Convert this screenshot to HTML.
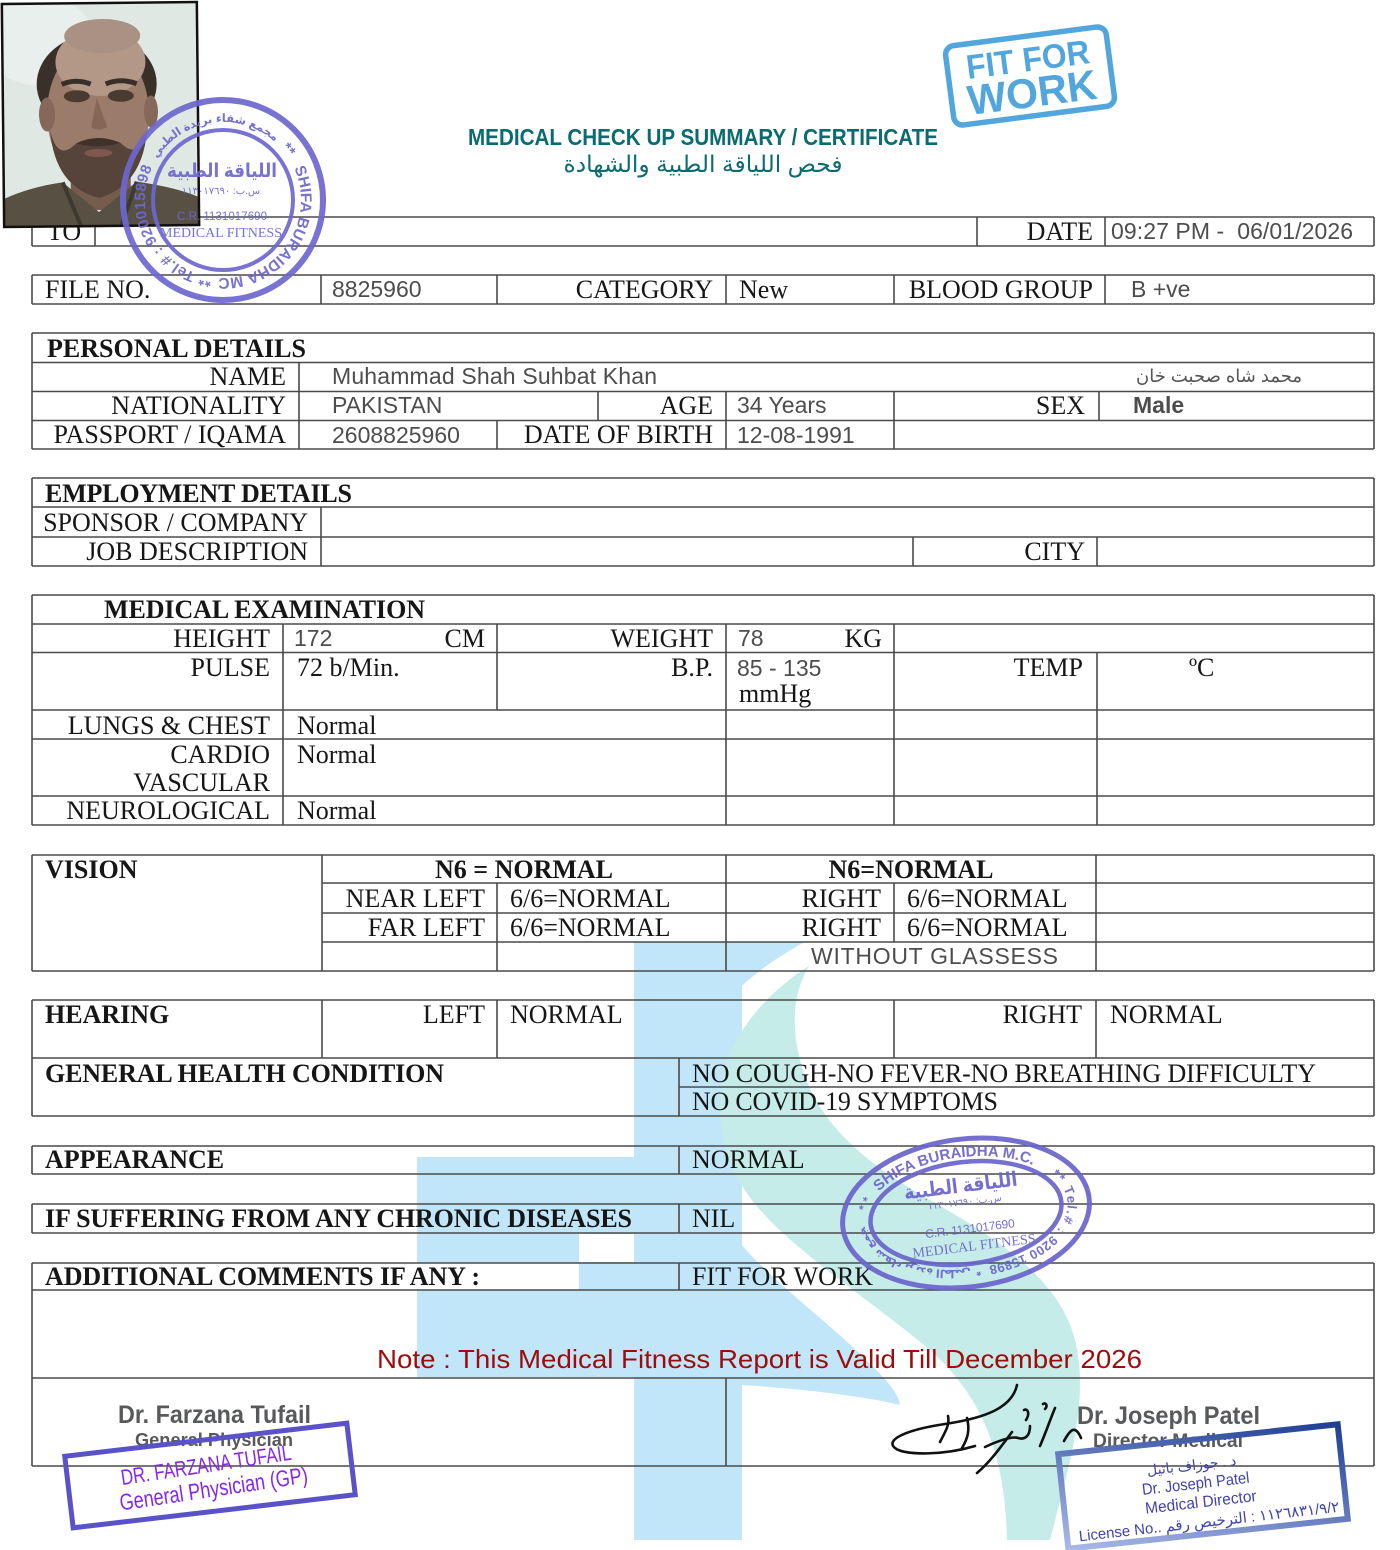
<!DOCTYPE html>
<html><head><meta charset="utf-8">
<style>
html,body{margin:0;padding:0;background:#fff;width:1400px;height:1550px;overflow:hidden}
svg{display:block}
.s{font-family:"Liberation Serif","DejaVu Serif",serif;font-size:26px;fill:#161616}
.b{font-weight:bold}
.v{font-family:"Liberation Sans","DejaVu Sans",sans-serif;font-size:23px;fill:#4d4d4d}
.e{text-anchor:end}
.m{text-anchor:middle}
.ar{font-family:"Liberation Sans","DejaVu Sans",sans-serif}
</style></head>
<body>
<svg xmlns="http://www.w3.org/2000/svg" width="1400" height="1550" viewBox="0 0 1400 1550">
<defs>
  <path id="c1" d="M223 278 A78 78 0 1 1 223 122 A78 78 0 1 1 223 278"/>
  <path id="c2" d="M864 1213 A102 56 0 1 1 1068 1213 A102 56 0 1 1 864 1213"/>
  <linearGradient id="jg" x1="1" y1="0" x2="0" y2="1">
    <stop offset="0" stop-color="#1f3f94"/>
    <stop offset="1" stop-color="#a9b8e8"/>
  </linearGradient>
  <clipPath id="pc"><rect x="3" y="3" width="195" height="223"/></clipPath>
</defs>
<rect width="1400" height="1550" fill="#fff"/>

<!-- watermark -->
<g>
  <path d="M742 942 L805 942 C762 965 715 1000 700 1049 C685 1100 690 1170 727 1226 C760 1275 830 1320 883 1377 C895 1390 900 1400 900 1405 C860 1395 790 1388 742 1385 Z" fill="#c2e6f9"/>
  <rect x="634" y="942" width="108" height="598" fill="#c2e6f9"/>
  <rect x="417" y="1157" width="325" height="220" fill="#c2e6f9"/>
  <path d="M809 966 C770 990 735 1030 724 1070 C712 1120 725 1170 760 1210 C800 1255 870 1300 930 1350 C980 1395 1005 1450 1007 1540 L1050 1540 C1068 1470 1090 1400 1075 1340 C1060 1280 1000 1240 930 1200 C860 1160 815 1120 800 1060 C790 1020 795 990 809 966 Z" fill="#c5ece8"/>
  <rect x="579" y="1234" width="55" height="28" fill="#fff"/>
  <rect x="417" y="1263" width="162" height="27" fill="#fff"/>
</g>

<!-- table lines -->
<path fill="none" stroke="#4a4a4a" stroke-width="1.6" d="
M32 217H1374 M32 246H1374 M32 217V246 M1374 217V246 M95 217V246 M977 217V246 M1105 217V246
M32 275H1374 M32 304H1374 M32 275V304 M1374 275V304 M321 275V304 M497 275V304 M726 275V304 M894 275V304 M1105 275V304
M32 333H1374 M32 362.5H1374 M32 391.5H1374 M32 420.5H1374 M32 449H1374 M32 333V449 M1374 333V449
M299 362.5V449 M598 391.5V420.5 M726 391.5V449 M894 391.5V449 M1099 391.5V420.5 M497 420.5V449
M32 478H1374 M32 507H1374 M32 537H1374 M32 566H1374 M32 478V566 M1374 478V566 M321 507V566 M913 537V566 M1097 537V566
M32 595H1374 M32 624H1374 M32 652.5H1374 M32 710H1374 M32 739H1374 M32 796H1374 M32 825H1374 M32 595V825 M1374 595V825
M283 624V825 M497 624V710 M726 624V825 M894 624V825 M1097 652.5V825
M32 855H1374 M32 971H1374 M322 883H1374 M322 913H1374 M322 942H1374 M32 855V971 M1374 855V971
M322 855V971 M726 855V971 M1096 855V971 M497 883V971 M894 883V942
M32 1000H1374 M32 1058H1374 M32 1116H1374 M679 1087H1374 M32 1000V1116 M1374 1000V1116
M322 1000V1058 M497 1000V1058 M894 1000V1058 M1096 1000V1058 M679 1058V1116
M32 1146H1374 M32 1174H1374 M32 1146V1174 M1374 1146V1174 M679 1146V1174
M32 1204H1374 M32 1233H1374 M32 1204V1233 M1374 1204V1233 M679 1204V1233
M32 1263H1374 M32 1290H1374 M32 1378H1374 M32 1466H1374 M32 1263V1466 M1374 1263V1466 M679 1263V1290 M726 1378V1466
"/>

<!-- title -->
<text x="468" y="145" font-family="Liberation Sans, sans-serif" font-weight="bold" font-size="23" fill="#0a6b70" textLength="470" lengthAdjust="spacingAndGlyphs">MEDICAL CHECK UP SUMMARY / CERTIFICATE</text>
<text x="703" y="172" class="ar m" font-size="23" fill="#0a6b70" textLength="279" lengthAdjust="spacingAndGlyphs">فحص اللياقة الطبية والشهادة</text>

<!-- row TO / DATE -->
<text class="s" x="47" y="240">TO</text>
<text class="s e" x="1093" y="240">DATE</text>
<text class="v" x="1111" y="239" textLength="242">09:27 PM -&#160; 06/01/2026</text>

<!-- FILE row -->
<text class="s" x="45" y="298">FILE NO.</text>
<text class="v" x="332" y="297">8825960</text>
<text class="s e" x="713" y="298">CATEGORY</text>
<text class="s" x="739" y="298">New</text>
<text class="s e" x="1093" y="298">BLOOD GROUP</text>
<text class="v" x="1131" y="297">B +ve</text>

<!-- Personal -->
<text class="s b" x="47" y="357" textLength="259">PERSONAL DETAILS</text>
<text class="s e" x="286" y="385">NAME</text>
<text class="v" x="332" y="384" textLength="325">Muhammad Shah Suhbat Khan</text>
<text class="ar e" x="1302" y="382" font-size="18" fill="#555">محمد شاه صحبت خان</text>
<text class="s e" x="286" y="414">NATIONALITY</text>
<text class="v" x="332" y="413">PAKISTAN</text>
<text class="s e" x="713" y="414">AGE</text>
<text class="v" x="737" y="413">34 Years</text>
<text class="s e" x="1085" y="414">SEX</text>
<text class="v" x="1133" y="413" font-weight="bold" fill="#555">Male</text>
<text class="s e" x="286" y="443">PASSPORT / IQAMA</text>
<text class="v" x="332" y="443">2608825960</text>
<text class="s e" x="713" y="443">DATE OF BIRTH</text>
<text class="v" x="737" y="443">12-08-1991</text>

<!-- Employment -->
<text class="s b" x="45" y="502" textLength="307">EMPLOYMENT DETAILS</text>
<text class="s e" x="308" y="531">SPONSOR / COMPANY</text>
<text class="s e" x="308" y="560">JOB DESCRIPTION</text>
<text class="s e" x="1085" y="560">CITY</text>

<!-- Medical -->
<text class="s b" x="104" y="618" textLength="321">MEDICAL EXAMINATION</text>
<text class="s e" x="270" y="647">HEIGHT</text>
<text class="v" x="294" y="646" font-size="21">172</text>
<text class="s e" x="485" y="647">CM</text>
<text class="s e" x="713" y="647">WEIGHT</text>
<text class="v" x="738" y="646" font-size="21">78</text>
<text class="s e" x="882" y="647">KG</text>
<text class="s e" x="270" y="676">PULSE</text>
<text class="s" x="297" y="676">72 b/Min.</text>
<text class="s e" x="713" y="676">B.P.</text>
<text class="v" x="737" y="676" font-size="21">85 - 135</text>
<text class="s" x="739" y="702">mmHg</text>
<text class="s e" x="1083" y="676">TEMP</text>
<text class="s" x="1189" y="676">ºC</text>
<text class="s e" x="270" y="734">LUNGS &amp; CHEST</text>
<text class="s" x="297" y="734">Normal</text>
<text class="s e" x="270" y="763">CARDIO</text>
<text class="s e" x="270" y="791">VASCULAR</text>
<text class="s" x="297" y="763">Normal</text>
<text class="s e" x="270" y="819">NEUROLOGICAL</text>
<text class="s" x="297" y="819">Normal</text>

<!-- Vision -->
<text class="s b" x="45" y="878">VISION</text>
<text class="s b m" x="524" y="878">N6 = NORMAL</text>
<text class="s b m" x="911" y="878">N6=NORMAL</text>
<text class="s e" x="485" y="907">NEAR LEFT</text>
<text class="s" x="510" y="907">6/6=NORMAL</text>
<text class="s e" x="881" y="907">RIGHT</text>
<text class="s" x="907" y="907">6/6=NORMAL</text>
<text class="s e" x="485" y="936">FAR LEFT</text>
<text class="s" x="510" y="936">6/6=NORMAL</text>
<text class="s e" x="881" y="936">RIGHT</text>
<text class="s" x="907" y="936">6/6=NORMAL</text>
<text class="v" x="811" y="964" textLength="247">WITHOUT GLASSESS</text>

<!-- Hearing etc -->
<text class="s b" x="45" y="1023">HEARING</text>
<text class="s e" x="485" y="1023">LEFT</text>
<text class="s" x="510" y="1023">NORMAL</text>
<text class="s e" x="1082" y="1023">RIGHT</text>
<text class="s" x="1110" y="1023">NORMAL</text>
<text class="s b" x="45" y="1082" textLength="399">GENERAL HEALTH CONDITION</text>
<text class="s" x="692" y="1082" textLength="624">NO COUGH-NO FEVER-NO BREATHING DIFFICULTY</text>
<text class="s" x="692" y="1110" textLength="306">NO COVID-19 SYMPTOMS</text>
<text class="s b" x="45" y="1168">APPEARANCE</text>
<text class="s" x="692" y="1168">NORMAL</text>
<text class="s b" x="45" y="1227" textLength="587">IF SUFFERING FROM ANY CHRONIC DISEASES</text>
<text class="s" x="692" y="1227">NIL</text>
<text class="s b" x="45" y="1285" textLength="435">ADDITIONAL COMMENTS IF ANY :</text>
<text class="s" x="692" y="1285">FIT FOR WORK</text>

<text x="377" y="1368" font-family="Liberation Sans, sans-serif" font-size="26" fill="#9e0b0b" textLength="765" lengthAdjust="spacingAndGlyphs">Note : This Medical Fitness Report is Valid Till December 2026</text>

<!-- signatures text -->
<text x="118" y="1423" font-family="Liberation Sans, sans-serif" font-weight="bold" font-size="25" fill="#58595b" textLength="193" lengthAdjust="spacingAndGlyphs">Dr. Farzana Tufail</text>
<text x="135" y="1446" font-family="Liberation Sans, sans-serif" font-weight="bold" font-size="18" fill="#58595b" textLength="158" lengthAdjust="spacingAndGlyphs">General Physician</text>
<text x="1077" y="1424" font-family="Liberation Sans, sans-serif" font-weight="bold" font-size="25" fill="#58595b" textLength="183" lengthAdjust="spacingAndGlyphs">Dr. Joseph Patel</text>
<text x="1093" y="1447" font-family="Liberation Sans, sans-serif" font-weight="bold" font-size="19" fill="#58595b" textLength="150" lengthAdjust="spacingAndGlyphs">Director Medical</text>

<!-- handwritten signature -->
<g fill="none" stroke="#111" stroke-width="2.6" stroke-linecap="round">
  <path d="M1017 1385 C1012 1408 985 1418 945 1424 C905 1430 885 1440 895 1448 C905 1456 945 1455 975 1446"/>
  <path d="M940 1442 C945 1432 950 1425 948 1416"/>
  <path d="M962 1448 C968 1438 970 1430 967 1418"/>
  <path d="M1012 1432 C1000 1448 990 1462 977 1473"/>
  <path d="M985 1447 C998 1441 1012 1436 1018 1438 C1025 1440 1030 1436 1030 1426"/>
  <path d="M1040 1446 C1046 1432 1050 1420 1055 1408"/>
  <path d="M1024 1410 C1028 1408 1030 1414 1026 1420"/>
  <path d="M1064 1441 C1070 1430 1075 1424 1081 1438"/>
  <path d="M1043 1404 C1046 1402 1048 1406 1045 1409"/>
</g>

<!-- photo -->
<g transform="rotate(-0.6 100 115)">
  <g clip-path="url(#pc)">
    <rect x="3" y="3" width="195" height="223" fill="#e0e8e4"/>
    <ellipse cx="40" cy="40" rx="55" ry="45" fill="#e9efec"/>
    <ellipse cx="97" cy="84" rx="60" ry="50" fill="#3a302a"/>
    <rect x="70" y="160" width="60" height="50" fill="#765c4d"/>
    <ellipse cx="98" cy="114" rx="51" ry="72" fill="#9b7b69"/>
    <ellipse cx="101" cy="62" rx="45" ry="34" fill="#b39888"/>
    <ellipse cx="103" cy="36" rx="38" ry="17" fill="#a99183"/>
    <ellipse cx="47" cy="114" rx="8" ry="17" fill="#86685a"/>
    <ellipse cx="151" cy="112" rx="7" ry="16" fill="#86685a"/>
    <path d="M62 84 Q76 78 91 84" stroke="#3a2e28" stroke-width="5" fill="none"/>
    <path d="M106 84 Q121 78 137 84" stroke="#3a2e28" stroke-width="5" fill="none"/>
    <ellipse cx="77" cy="96" rx="13" ry="6" fill="#4a3a32"/>
    <ellipse cx="121" cy="96" rx="13" ry="6" fill="#4a3a32"/>
    <path d="M97 98 L91 127 Q98 132 107 127 Z" fill="#866656"/>
    <path d="M50 130 Q54 186 98 198 Q142 186 147 130 Q140 162 120 143 Q98 138 76 143 Q57 162 50 130 Z" fill="#56443a"/>
    <path d="M76 143 Q98 133 120 143 Q98 150 76 143 Z" fill="#40322b"/>
    <ellipse cx="98" cy="153" rx="14" ry="4" fill="#7e5850"/>
    <path d="M3 226 L3 198 Q30 186 62 182 L98 212 L136 182 Q175 188 198 198 L198 226 Z" fill="#575043"/>
    <path d="M62 182 L80 226 M136 182 L120 226" stroke="#3e392f" stroke-width="4" fill="none"/>
  </g>
  <rect x="3" y="3" width="195" height="223" fill="none" stroke="#111" stroke-width="2.5"/>
</g>

<!-- stamp 1 (round) -->
<g opacity="0.92" fill="#6d67cf">
  <circle cx="223" cy="200" r="100" fill="none" stroke="#6d67cf" stroke-width="6"/>
  <circle cx="223" cy="200" r="70" fill="none" stroke="#6d67cf" stroke-width="4"/>
  <text font-family="Liberation Sans, sans-serif" font-weight="bold" font-size="15" letter-spacing="0.4"><textPath href="#c1" startOffset="11">** Tel.# : 920015898</textPath></text>
  <text class="ar" font-weight="bold" font-size="11.5"><textPath href="#c1" startOffset="166">مجمع شفاء بريدة الطبي</textPath></text>
  <text font-family="Liberation Sans, sans-serif" font-weight="bold" font-size="15"><textPath href="#c1" startOffset="310">**</textPath></text>
  <text font-family="Liberation Sans, sans-serif" font-weight="bold" font-size="15.5"><textPath href="#c1" startOffset="334">SHIFA BURAIDHA MC</textPath></text>
  <text class="ar m" x="222" y="177" font-weight="bold" font-size="19" textLength="110" lengthAdjust="spacingAndGlyphs">اللياقة الطبية</text>
  <text class="ar m" x="221" y="194" font-size="10">س.ب: ١١٣٠١٧٦٩٠</text>
  <text class="m" x="222" y="220" font-family="Liberation Sans, sans-serif" font-size="11.5" textLength="90">C.R. 1131017690</text>
  <text class="m" x="221" y="237" font-family="Liberation Serif, serif" font-size="14" textLength="122">MEDICAL FITNESS</text>
</g>

<!-- FIT FOR WORK stamp -->
<g transform="rotate(-7.4 1030 76)" opacity="0.95">
  <rect x="949" y="36" width="162" height="80" rx="9" fill="none" stroke="#48a2dc" stroke-width="5.5"/>
  <text x="1030" y="71" class="m" font-family="Liberation Sans, sans-serif" font-weight="bold" font-size="34" fill="#48a2dc" textLength="124" lengthAdjust="spacingAndGlyphs">FIT FOR</text>
  <text x="1030" y="107" class="m" font-family="Liberation Sans, sans-serif" font-weight="bold" font-size="42" fill="#48a2dc" textLength="130" lengthAdjust="spacingAndGlyphs">WORK</text>
</g>

<!-- stamp 2 (oval) -->
<g transform="rotate(-7 966 1213)" opacity="0.92" fill="#6a64cc">
  <ellipse cx="966" cy="1213" rx="124" ry="74" fill="none" stroke="#6a64cc" stroke-width="5"/>
  <ellipse cx="966" cy="1213" rx="96" ry="51" fill="none" stroke="#6a64cc" stroke-width="4.5"/>
  <text font-family="Liberation Sans, sans-serif" font-weight="bold" font-size="12"><textPath href="#c2" startOffset="14">* *</textPath></text>
  <text font-family="Liberation Sans, sans-serif" font-weight="bold" font-size="15"><textPath href="#c2" startOffset="38">SHIFA BURAIDHA M.C.</textPath></text>
  <text font-family="Liberation Sans, sans-serif" font-weight="bold" font-size="13" letter-spacing="1.5"><textPath href="#c2" startOffset="222">** Tel.# :</textPath></text>
  <text font-family="Liberation Sans, sans-serif" font-weight="bold" font-size="13" letter-spacing="0.3"><textPath href="#c2" startOffset="292">9200 15898</textPath></text>
  <text font-family="Liberation Sans, sans-serif" font-weight="bold" font-size="12"><textPath href="#c2" startOffset="372">*</textPath></text>
  <text class="ar" font-weight="bold" font-size="11"><textPath href="#c2" startOffset="382">مجمع شفاء بريدة الطبي</textPath></text>
  <text class="ar m" x="964" y="1192" font-weight="bold" font-size="20" textLength="114" lengthAdjust="spacingAndGlyphs">اللياقة الطبية</text>
  <text class="ar m" x="966" y="1205" font-size="9.5">س.ب: ١١٣٠١٧٦٩٠</text>
  <text class="m" x="968" y="1233" font-family="Liberation Sans, sans-serif" font-size="12" textLength="90">C.R. 1131017690</text>
  <text class="m" x="970" y="1251" font-family="Liberation Serif, serif" font-size="14" textLength="124">MEDICAL FITNESS</text>
</g>

<!-- Farzana stamp -->
<g transform="rotate(-8.5 210 1478)" font-family="Liberation Sans, sans-serif" fill="#8326f2">
  <text class="m" x="208" y="1472" font-size="22" textLength="172" lengthAdjust="spacingAndGlyphs">DR. FARZANA TUFAIL</text>
  <text class="m" x="212" y="1497" font-size="23" textLength="190" lengthAdjust="spacingAndGlyphs">General Physician (GP)</text>
</g>
<g transform="rotate(-6.7 210 1475.5)">
  <rect x="68" y="1439.5" width="284" height="72" fill="none" stroke="#5a52c8" stroke-width="5"/>
</g>

<!-- Joseph stamp -->
<g transform="rotate(-6.5 1203 1486)" fill="#4043b0" font-family="Liberation Sans, DejaVu Sans, sans-serif">
  <text class="m" x="1194" y="1469" font-size="14">د . جوزاف باتيل</text>
  <text class="m" x="1196" y="1488" font-size="16" textLength="108" lengthAdjust="spacingAndGlyphs">Dr. Joseph Patel</text>
  <text class="m" x="1199" y="1507" font-size="16" textLength="112" lengthAdjust="spacingAndGlyphs">Medical Director</text>
  <text class="m" x="1205" y="1527" font-size="15" textLength="262" lengthAdjust="spacingAndGlyphs">License No.. ١١٢٦٨٣١/٩/٢ : الترخيص رقم</text>
</g>
<g transform="rotate(-6.1 1203 1486.5)">
  <rect x="1062.5" y="1439" width="281" height="95" fill="none" stroke="url(#jg)" stroke-width="6"/>
</g>
</svg>
</body></html>
